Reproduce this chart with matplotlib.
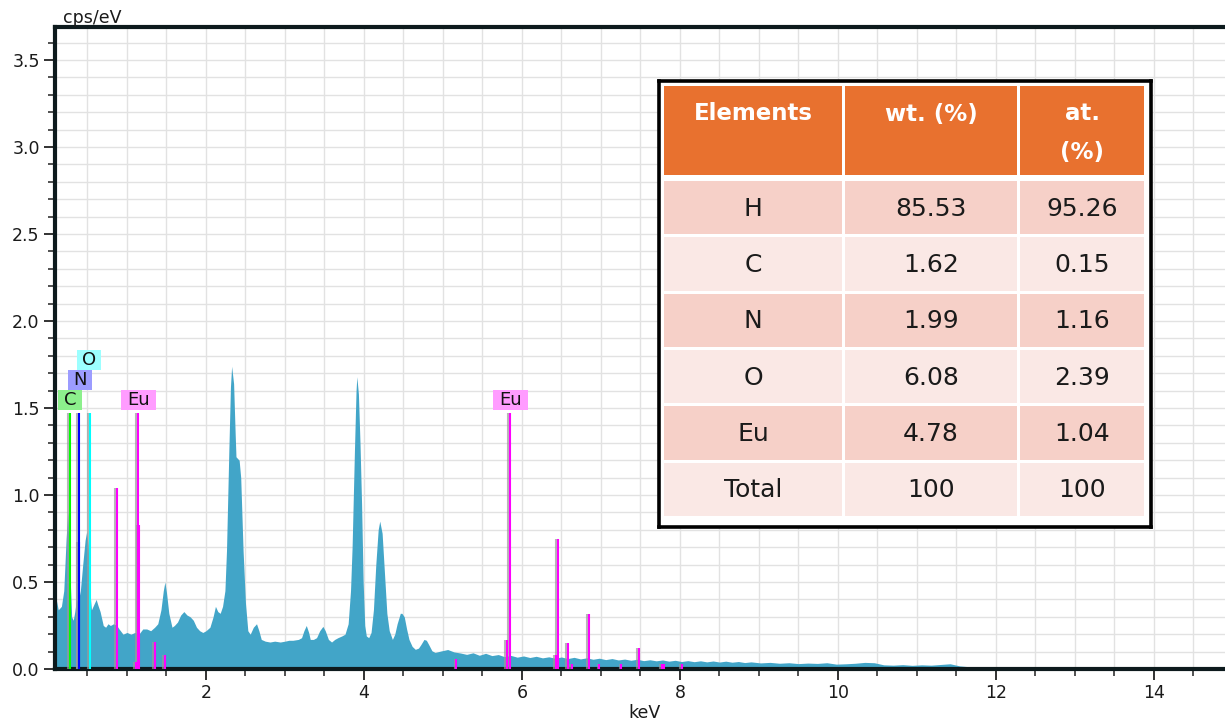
import matplotlib
matplotlib.use("Agg")
import matplotlib.pyplot as plt
import matplotlib.patheffects as pe
from matplotlib.patches import Rectangle
from matplotlib.ticker import MultipleLocator, FormatStrFormatter

# EDS spectrum (keV, cps/eV)
energy = [0.09, 0.105, 0.13, 0.17, 0.20, 0.23, 0.25, 0.27, 0.30, 0.32, 0.34, 0.36, 0.38,
          0.41, 0.44, 0.47, 0.49, 0.51, 0.53, 0.55, 0.58, 0.61, 0.63, 0.66, 0.70, 0.73,
          0.76, 0.79, 0.83, 0.87, 0.90, 0.95, 1.00, 1.05, 1.10, 1.15, 1.20, 1.25, 1.30,
          1.35, 1.39, 1.43, 1.46, 1.48, 1.50, 1.53, 1.57, 1.60, 1.64, 1.68, 1.72, 1.76,
          1.80, 1.84, 1.88, 1.92, 1.96, 2.00, 2.05, 2.09, 2.12, 2.15, 2.18, 2.21, 2.24,
          2.26, 2.29, 2.31, 2.325, 2.35, 2.37, 2.38, 2.42, 2.44, 2.47, 2.50, 2.53, 2.56,
          2.60, 2.64, 2.67, 2.70, 2.75, 2.81, 2.87, 2.94, 3.00, 3.05, 3.10, 3.17, 3.21,
          3.24, 3.27, 3.30, 3.32, 3.36, 3.40, 3.44, 3.48, 3.51, 3.55, 3.59, 3.63, 3.67,
          3.72, 3.76, 3.80, 3.83, 3.85, 3.88, 3.90, 3.91, 3.93, 3.95, 3.97, 3.99, 4.01,
          4.03, 4.06, 4.09, 4.12, 4.15, 4.18, 4.20, 4.23, 4.26, 4.29, 4.32, 4.36, 4.39,
          4.42, 4.46, 4.48, 4.51, 4.54, 4.57, 4.61, 4.65, 4.69, 4.72, 4.76, 4.79, 4.82,
          4.86, 4.90, 4.98, 5.06, 5.14, 5.22, 5.30, 5.38, 5.46, 5.54, 5.62, 5.70, 5.78,
          5.86, 5.94, 6.02, 6.10, 6.18, 6.26, 6.34, 6.42, 6.50, 6.58, 6.66, 6.74, 6.82,
          6.90, 6.98, 7.06, 7.14, 7.22, 7.30, 7.38, 7.46, 7.54, 7.62, 7.70, 7.78, 7.86,
          7.94, 8.02, 8.10, 8.18, 8.26, 8.34, 8.42, 8.50, 8.58, 8.66, 8.74, 8.82, 8.90,
          9.02, 9.14, 9.26, 9.38, 9.50, 9.62, 9.74, 9.86, 9.98, 10.10, 10.22, 10.34,
          10.46, 10.58, 10.70, 10.82, 10.94, 11.06, 11.18, 11.30, 11.42, 11.54, 11.66,
          11.78, 11.90, 12.02, 12.14, 12.26, 12.38, 12.50, 12.62, 12.74, 12.86, 12.98,
          13.10, 13.50, 14.90]
counts = [1.26, 0.40, 0.34, 0.36, 0.45, 0.75, 0.90, 0.65, 0.30, 0.28, 0.33, 0.40, 0.38,
          0.45, 0.60, 0.74, 0.79, 0.70, 0.45, 0.34, 0.37, 0.40, 0.37, 0.33, 0.25, 0.24,
          0.26, 0.25, 0.26, 0.25, 0.23, 0.20, 0.21, 0.20, 0.21, 0.20, 0.23, 0.23, 0.22,
          0.24, 0.26, 0.34, 0.45, 0.50, 0.44, 0.32, 0.24, 0.25, 0.27, 0.31, 0.33, 0.31,
          0.30, 0.28, 0.24, 0.22, 0.21, 0.22, 0.24, 0.30, 0.36, 0.33, 0.32, 0.36, 0.45,
          0.68, 1.26, 1.62, 1.74, 1.64, 1.35, 1.22, 1.20, 1.10, 0.68, 0.38, 0.22, 0.20,
          0.24, 0.26, 0.22, 0.17, 0.16, 0.155, 0.16, 0.155, 0.16, 0.165, 0.165, 0.17, 0.18,
          0.22, 0.25, 0.21, 0.17, 0.17, 0.18, 0.22, 0.245, 0.22, 0.17, 0.155, 0.17, 0.18,
          0.19, 0.20, 0.26, 0.45, 0.70, 1.26, 1.60, 1.68, 1.58, 1.30, 0.95, 0.50, 0.25,
          0.19, 0.18, 0.21, 0.34, 0.60, 0.80, 0.85, 0.78, 0.55, 0.32, 0.22, 0.17, 0.20,
          0.26, 0.32, 0.32, 0.30, 0.23, 0.17, 0.13, 0.113, 0.12, 0.14, 0.17, 0.165, 0.14,
          0.105, 0.095, 0.104, 0.112, 0.098, 0.092, 0.084, 0.093, 0.079, 0.090, 0.077, 0.083, 0.071,
          0.078, 0.068, 0.075, 0.066, 0.073, 0.064, 0.070, 0.062, 0.069, 0.060, 0.067, 0.058, 0.064,
          0.056, 0.062, 0.054, 0.060, 0.052, 0.057, 0.050, 0.056, 0.048, 0.053, 0.047, 0.052, 0.045,
          0.050, 0.043, 0.048, 0.042, 0.047, 0.041, 0.046, 0.040, 0.045, 0.039, 0.043, 0.037, 0.041,
          0.035, 0.038, 0.033, 0.036, 0.031, 0.034, 0.032, 0.036, 0.028, 0.030, 0.033, 0.038,
          0.036, 0.024, 0.022, 0.025, 0.021, 0.024, 0.022, 0.026, 0.030, 0.018, 0.013,
          0.014, 0.010, 0.012, 0.008, 0.010, 0.007, 0.008, 0.005, 0.006, 0.004, 0.005,
          0.003, 0.001, 0.0]

# element marker lines (keV, height)
c_lines = [(0.277, 1.47)]
n_lines = [(0.389, 1.47), (0.395, 0.73)]
o_lines = [(0.528, 1.47)]
eu_lines = [(0.87, 1.04), (1.11, 0.04), (1.143, 1.47), (1.152, 0.83), (1.35, 0.157),
            (1.48, 0.08), (5.17, 0.06), (5.81, 0.167), (5.846, 1.47), (6.43, 0.08),
            (6.456, 0.745), (6.58, 0.147), (6.63, 0.03), (6.843, 0.314), (6.98, 0.03),
            (7.26, 0.03), (7.48, 0.12), (7.77, 0.03), (7.80, 0.03), (8.03, 0.03)]

# label boxes: text, keV, box bottom, box colour
labels = [("C", 0.285, 1.49, "#8cf08c"), ("N", 0.41, 1.605, "#9c9cff"),
          ("O", 0.525, 1.72, "#9cffff"), ("Eu", 1.145, 1.49, "#ff9cff"),
          ("Eu", 5.855, 1.49, "#ff9cff")]

# composition table
tbl_header = ["Elements", "wt. (%)", "at.\n(%)"]
tbl_elements = ["H", "C", "N", "O", "Eu", "Total"]
tbl_wt = ["85.53", "1.62", "1.99", "6.08", "4.78", "100"]
tbl_at = ["95.26", "0.15", "1.16", "2.39", "1.04", "100"]

W, H = 1225, 723
fig = plt.figure(figsize=(W / 100, H / 100), dpi=100)
ax = fig.add_axes([55 / W, 1 - 669 / H, 1 - 55 / W, (669 - 27) / H])

ax.fill_between(energy, counts, 0, color="#42a5c8", lw=0, zorder=2)

shadow = [pe.SimpleLineShadow(offset=(-1.3, 0), shadow_color="#9a9a9a", alpha=0.7), pe.Normal()]
for lines, col in [(c_lines, "#00ff00"), (n_lines, "#0000ff"), (o_lines, "#00ffff"), (eu_lines, "#ff00ff")]:
    xs = [l[0] for l in lines]
    hs = [l[1] for l in lines]
    ax.vlines(xs, 0, hs, colors=col, lw=1.5, zorder=3, path_effects=shadow)

kev_px = 79.0
val_px = 174.0
for txt, x, y0, col in labels:
    w = (13 + 11 * len(txt)) / kev_px
    h = 20 / val_px
    ax.add_patch(Rectangle((x - w / 2, y0), w, h, facecolor=col, edgecolor="none", zorder=4))
    ax.text(x, y0 + h / 2, txt, ha="center", va="center", fontsize=13, color="#111111", zorder=5)

ax.set_xlim(0.089, 14.9)
ax.set_ylim(0, 3.69)
ax.xaxis.set_major_locator(MultipleLocator(2))
ax.xaxis.set_minor_locator(MultipleLocator(0.5))
ax.yaxis.set_major_locator(MultipleLocator(0.5))
ax.yaxis.set_minor_locator(MultipleLocator(0.1))
ax.yaxis.set_major_formatter(FormatStrFormatter("%.1f"))
ax.grid(which="both", color="#e2e2e2", lw=1.0)
ax.set_axisbelow(True)

spine_col = "#0d1a1d"
for s in ["left", "bottom", "top"]:
    ax.spines[s].set_linewidth(3)
    ax.spines[s].set_color(spine_col)
ax.spines["right"].set_visible(False)
ax.tick_params(which="major", length=8, width=1.3, color="#222222", labelsize=12.5,
               labelcolor="#1a1a1a", pad=3)
ax.tick_params(which="minor", length=5, width=1.1, color="#222222")

fig.text(63 / W, 1 - 23 / H, "cps/eV", fontsize=12.5, color="#1a1a1a", va="baseline")
fig.text(645 / W, 1 - 718 / H, "keV", fontsize=12.5, color="#1a1a1a", va="baseline", ha="center")

# table drawn in its own axes, pixel units from the top-left corner of the frame
tw, th = 492, 446
tax = fig.add_axes([659 / W, 1 - 527 / H, tw / W, th / H], zorder=10)
tax.set_xlim(0, tw)
tax.set_ylim(th, 0)
tax.set_xticks([])
tax.set_yticks([])
tax.set_facecolor("white")
for s in tax.spines.values():
    s.set_linewidth(2.6)
    s.set_color("black")

col_left = [5, 186, 361]
col_width = [178, 172, 124]
head_top, head_h = 5, 89
row_top, row_pitch, row_h = 100, 56.3, 53.3
orange = "#e8712f"
row_cols = ["#f6d0c8", "#fae8e5"]

for j in range(3):
    tax.add_patch(Rectangle((col_left[j], head_top), col_width[j], head_h, facecolor=orange, edgecolor="none"))
    cx = col_left[j] + col_width[j] / 2
    for k, part in enumerate(tbl_header[j].split("\n")):
        tax.text(cx, 33 + 38 * k, part, ha="center", va="center", fontsize=16.5,
                 fontweight="bold", color="white")

for i, (el, wt, at) in enumerate(zip(tbl_elements, tbl_wt, tbl_at)):
    y0 = row_top + i * row_pitch
    for j, val in enumerate([el, wt, at]):
        tax.add_patch(Rectangle((col_left[j], y0), col_width[j], row_h,
                                facecolor=row_cols[i % 2], edgecolor="none"))
        tax.text(col_left[j] + col_width[j] / 2, y0 + row_h / 2 + 1, val, ha="center", va="center",
                 fontsize=18, color="#1a1a1a")

fig.savefig("out.png", dpi=100)
